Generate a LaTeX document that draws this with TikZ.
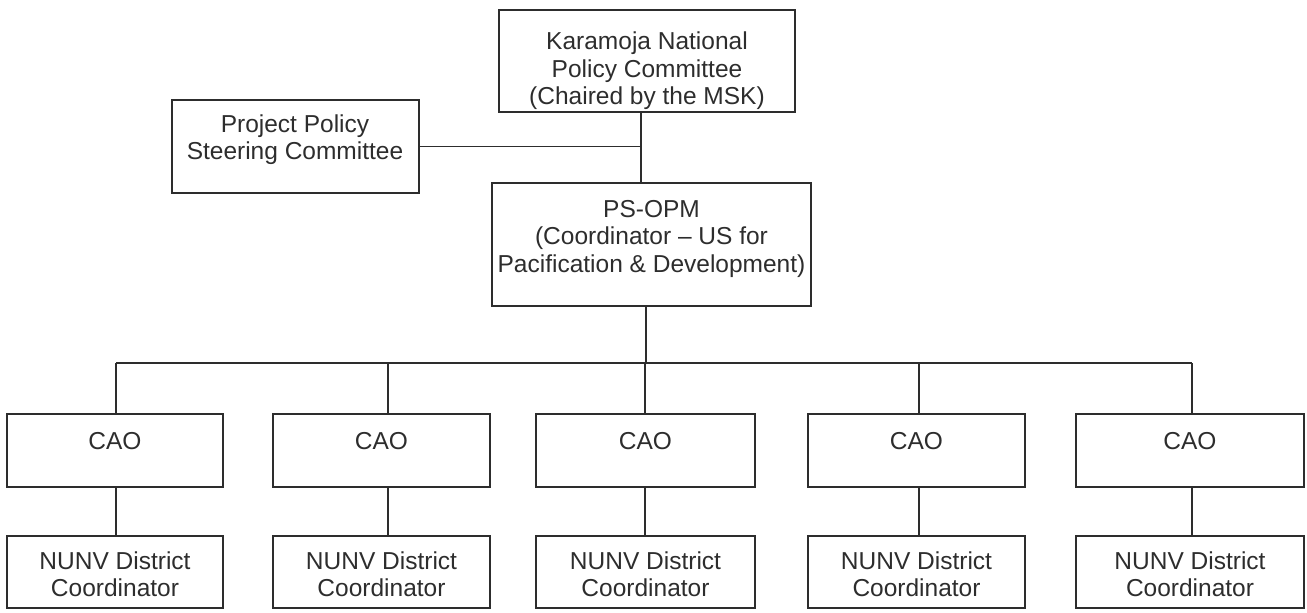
\documentclass[tikz,border=0pt]{standalone}
\usepackage{fontspec}
\setmainfont{Liberation Sans}
\usetikzlibrary{positioning,calc}
\definecolor{inkc}{RGB}{45,45,45}
\tikzset{
  box/.style={rectangle,draw=inkc,line width=2pt,inner sep=0pt},
  txt/.style={align=center,inner sep=0pt,text=inkc,font=\fontsize{24.5}{27.5}\selectfont},
  link/.style={line width=1.8pt,inkc},
}
\begin{document}
\begin{tikzpicture}[x=1pt,y=-1pt]
  \useasboundingbox (0,0) rectangle (1307,613);
  % top levels
  \node[box,minimum width=296pt,minimum height=102pt] (knpc) at (647,61) {};
  \node[txt] (knpct) at ([yshift=-10pt]knpc.center) {Karamoja National\\Policy Committee\\(Chaired by the MSK)};
  \node[box,minimum width=247pt,minimum height=93pt] (ppsc) at (295,146.5) {};
  \node[txt] (ppsct) at ([yshift=7pt]ppsc.center) {Project Policy\\Steering Committee};
  \node[box,minimum width=319pt,minimum height=123pt] (psopm) at (651.5,244.5) {};
  \node[txt] (psopmt) at ([yshift=6pt]psopm.center) {PS-OPM\\(Coordinator -- US for\\Pacification \& Development)};
  \draw[link] (knpc.south) ++(-6pt,0) coordinate (kb) -- (kb |- psopm.north);
  \draw[link] (ppsc.east) -- (ppsc.east -| kb);
  % district level
  \coordinate (bus) at (0,363);
  \foreach \i/\x/\w/\d in {1/115/216/1,2/381.5/217/6.5,3/645.5/219/-0.5,4/916.5/217/2.5,5/1190/228/2}{
    \node[box,minimum width=\w pt,minimum height=73pt] (cao\i) at (\x,450.5) {};
    \node[txt] (cao\i t) at ([yshift=9pt]cao\i.center) {CAO};
    \node[box,minimum width=\w pt,minimum height=72pt] (nunv\i) at (\x,572) {};
    \node[txt] (nunv\i t) at ([yshift=-2pt]nunv\i.center) {NUNV District\\Coordinator};
    \coordinate (top\i) at ([xshift=\d pt]cao\i.north);
    \draw[link] (top\i |- bus) -- (top\i);
    \draw[link] ([xshift=\d pt]cao\i.south) -- ([xshift=\d pt]nunv\i.north);
  }
  \draw[link] (psopm.south) ++(-5.5pt,0) coordinate (pb) -- (pb |- bus);
  \draw[link] (top1 |- bus) -- (top5 |- bus);
\end{tikzpicture}
\end{document}
